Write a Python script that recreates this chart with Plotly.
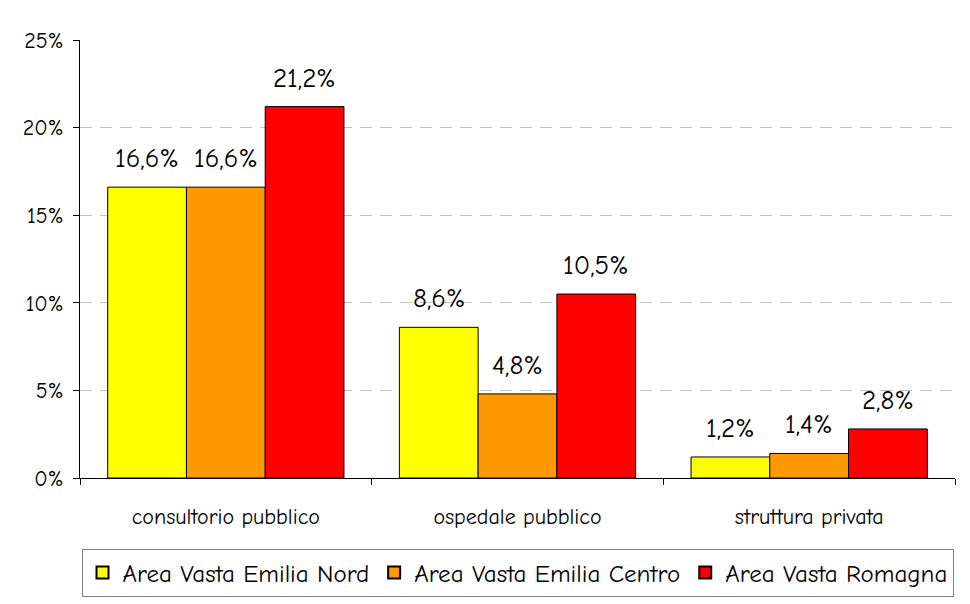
import plotly.graph_objects as go

categories = ["consultorio pubblico", "ospedale pubblico", "struttura privata"]
series_names = ["Area Vasta Emilia Nord", "Area Vasta Emilia Centro", "Area Vasta Romagna"]
nord = [16.6, 8.6, 1.2]
centro = [16.6, 4.8, 1.4]
romagna = [21.2, 10.5, 2.8]
colors = ["#FFFF00", "#FF9900", "#FF0000"]
y_ticks = [0, 5, 10, 15, 20, 25]

FONT = "Comic Sans MS, Comic Neue, DejaVu Sans, sans-serif"
BARGAP = 0.19

fig = go.Figure()
all_series = [nord, centro, romagna]
for name, vals, col in zip(series_names, all_series, colors):
    fig.add_trace(go.Bar(
        x=categories, y=vals, name=name,
        marker=dict(color=col, line=dict(color="black", width=1)),
    ))

# data labels
n = len(all_series)
bw = (1 - BARGAP) / n
for j, vals in enumerate(all_series):
    off = (j - (n - 1) / 2) * bw
    for i, v in enumerate(vals):
        fig.add_annotation(
            x=i + off, y=v, xref="x", yref="y",
            text=f"{v:.1f}%".replace(".", ","),
            showarrow=False, yanchor="bottom", yshift=11,
            font=dict(family=FONT, size=27, color="black"),
        )

fig.update_layout(
    width=970, height=604,
    margin=dict(l=80, r=15, t=40, b=126),
    paper_bgcolor="white", plot_bgcolor="white",
    barmode="group", bargap=BARGAP, bargroupgap=0,
    font=dict(family=FONT, color="black"),
    showlegend=True,
    legend=dict(
        orientation="h", x=0.5, xanchor="center",
        yref="container", y=0.012, yanchor="bottom",
        bordercolor="#808080", borderwidth=1,
        font=dict(family=FONT, size=25, color="black"),
        itemsizing="constant", traceorder="normal",
        itemwidth=30,
    ),
    xaxis=dict(
        type="category", showline=True, linecolor="black", linewidth=1,
        ticks="outside", tickson="boundaries", ticklen=6, tickcolor="black",
        tickfont=dict(family=FONT, size=22, color="black"),
        ticklabelstandoff=19, showgrid=False,
    ),
    yaxis=dict(
        range=[0, 25], tickvals=y_ticks, ticktext=[f"{t}%" for t in y_ticks],
        showline=True, linecolor="black", linewidth=1,
        ticks="outside", ticklen=6, tickcolor="black",
        tickfont=dict(family=FONT, size=22, color="black"),
        ticklabelstandoff=5,
        showgrid=True, gridcolor="#C0C0C0", griddash="12px,8px", gridwidth=1,
        zeroline=False,
    ),
)

fig.write_html("out.html")
